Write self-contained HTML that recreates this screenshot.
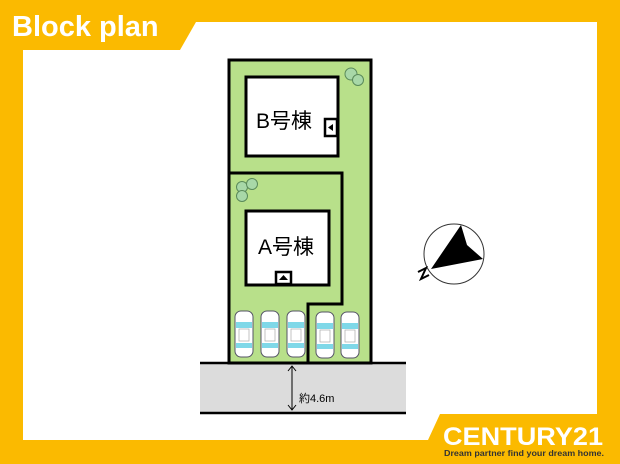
<!DOCTYPE html>
<html><head><meta charset="utf-8"><style>
html,body{margin:0;padding:0;background:#fbba00;}
body{width:620px;height:464px;position:relative;overflow:hidden;font-family:"Liberation Sans","Noto Sans CJK JP",sans-serif;}
</style></head><body>
<svg width="620" height="464" viewBox="0 0 620 464" style="position:absolute;left:0;top:0">
<rect width="620" height="464" fill="#fbba00"/>
<polygon points="23,50 180,50 196,22 597,22 597,414 440,414 428,440 23,440" fill="#fff"/>
<text x="12" y="36" font-size="29" font-weight="bold" fill="#fff" font-family="Liberation Sans, sans-serif">Block plan</text>
<!-- road -->
<rect x="200" y="363" width="206" height="50" fill="#dcdcdc"/>
<line x1="200" y1="363" x2="406" y2="363" stroke="#000" stroke-width="2.5"/>
<line x1="200" y1="413" x2="406" y2="413" stroke="#000" stroke-width="2.5"/>
<line x1="292" y1="366" x2="292" y2="410" stroke="#000" stroke-width="1"/>
<polyline points="288,371 292,366 296,371" fill="none" stroke="#000" stroke-width="1"/>
<polyline points="288,405 292,410 296,405" fill="none" stroke="#000" stroke-width="1"/>
<text x="299" y="402" font-size="11" fill="#000">約4.6m</text>
<!-- lot -->
<rect x="229" y="60" width="142" height="303" fill="#b8e08a" stroke="#000" stroke-width="3"/>
<polyline points="229,173 342,173 342,304 308,304 308,363" fill="none" stroke="#000" stroke-width="3"/>
<rect x="246" y="77" width="92" height="79" fill="#fff" stroke="#000" stroke-width="3"/>
<rect x="246" y="211" width="83" height="74" fill="#fff" stroke="#000" stroke-width="3"/>
<rect x="325" y="119" width="12" height="17" fill="#fff" stroke="#000" stroke-width="2.5"/>
<polygon points="328,127.5 333,124 333,131" fill="#000"/>
<rect x="276" y="272" width="15" height="12" fill="#fff" stroke="#000" stroke-width="2.5"/>
<polygon points="283.5,275 279,280 288,280" fill="#000"/>
<text x="256" y="128" font-size="21" fill="#000">B号棟</text>
<text x="258" y="254" font-size="21" fill="#000">A号棟</text>
<!-- trees -->
<g fill="#a8d8a8" stroke="#5a8a5a" stroke-width="1">
<circle cx="351" cy="74" r="6"/><circle cx="358" cy="80" r="5.5"/>
<circle cx="242" cy="187" r="5.5"/><circle cx="252" cy="184" r="5.5"/><circle cx="242" cy="196" r="5.5"/>
</g>
<!-- cars -->
<g>
<g transform="translate(244,334)"><rect x="-9" y="-23" width="18" height="46" rx="6" fill="#fff" stroke="#556" stroke-width="1"/><rect x="-8" y="-12" width="16" height="6" fill="#7fd8e8"/><rect x="-8" y="9" width="16" height="5" fill="#7fd8e8"/><rect x="-5" y="-5" width="10" height="12" fill="#fff" stroke="#aaa" stroke-width="0.7"/></g>
<g transform="translate(270,334)"><rect x="-9" y="-23" width="18" height="46" rx="6" fill="#fff" stroke="#556" stroke-width="1"/><rect x="-8" y="-12" width="16" height="6" fill="#7fd8e8"/><rect x="-8" y="9" width="16" height="5" fill="#7fd8e8"/><rect x="-5" y="-5" width="10" height="12" fill="#fff" stroke="#aaa" stroke-width="0.7"/></g>
<g transform="translate(296,334)"><rect x="-9" y="-23" width="18" height="46" rx="6" fill="#fff" stroke="#556" stroke-width="1"/><rect x="-8" y="-12" width="16" height="6" fill="#7fd8e8"/><rect x="-8" y="9" width="16" height="5" fill="#7fd8e8"/><rect x="-5" y="-5" width="10" height="12" fill="#fff" stroke="#aaa" stroke-width="0.7"/></g>
<g transform="translate(325,335)"><rect x="-9" y="-23" width="18" height="46" rx="6" fill="#fff" stroke="#556" stroke-width="1"/><rect x="-8" y="-12" width="16" height="6" fill="#7fd8e8"/><rect x="-8" y="9" width="16" height="5" fill="#7fd8e8"/><rect x="-5" y="-5" width="10" height="12" fill="#fff" stroke="#aaa" stroke-width="0.7"/></g>
<g transform="translate(350,335)"><rect x="-9" y="-23" width="18" height="46" rx="6" fill="#fff" stroke="#556" stroke-width="1"/><rect x="-8" y="-12" width="16" height="6" fill="#7fd8e8"/><rect x="-8" y="9" width="16" height="5" fill="#7fd8e8"/><rect x="-5" y="-5" width="10" height="12" fill="#fff" stroke="#aaa" stroke-width="0.7"/></g>
</g>
<!-- compass -->
<circle cx="454" cy="254" r="30" fill="#fff" stroke="#333" stroke-width="1"/>
<polygon points="461,225 467,245 483,259 431,269" fill="#000"/>
<polyline points="418,272 426,268 421,279 429,275" fill="none" stroke="#000" stroke-width="2"/>
<!-- logo -->
<text x="443" y="445" font-size="25" font-weight="bold" fill="#fff" font-family="Liberation Sans, sans-serif" textLength="160" lengthAdjust="spacingAndGlyphs">CENTURY21</text>
<text x="444" y="456" font-size="8.5" font-weight="bold" fill="#333" textLength="160" lengthAdjust="spacingAndGlyphs">Dream partner find your dream home.</text>
</svg>
</body></html>
